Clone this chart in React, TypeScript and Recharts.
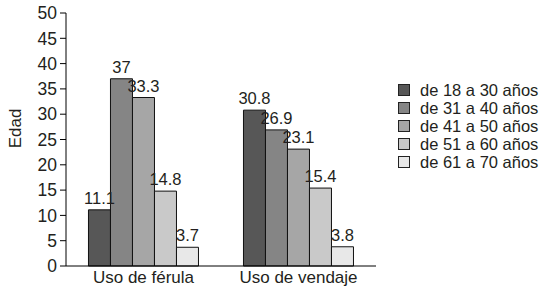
import { Bar, BarChart, LabelList, Legend, XAxis, YAxis } from "recharts";

const categories = ["Uso de férula", "Uso de vendaje"];
const groups = ["de 18 a 30 años", "de 31 a 40 años", "de 41 a 50 años", "de 51 a 60 años", "de 61 a 70 años"];
const valsFerula = [11.1, 37, 33.3, 14.8, 3.7];
const valsVendaje = [30.8, 26.9, 23.1, 15.4, 3.8];
const yTicks = [0, 5, 10, 15, 20, 25, 30, 35, 40, 45, 50];

const fills = ["#575757", "#858585", "#a6a6a6", "#c9c9c9", "#e8e8e8"];
const font = '"Liberation Sans", Arial, sans-serif';
const ink = "#231f20";

const data = categories.map((c, i) => {
  const row: Record<string, string | number> = { cat: c, pos: i + 0.5 };
  const vals = i === 0 ? valsFerula : valsVendaje;
  groups.forEach((g, j) => (row["s" + j] = vals[j]));
  return row;
});

function LegendBox({ payload }: any) {
  return (
    <div style={{ fontFamily: font, fontSize: 16.5, color: ink }}>
      {(payload || []).map((p: any) => (
        <div key={p.value} style={{ display: "flex", alignItems: "center", height: 18 }}>
          <span
            style={{
              width: 10,
              height: 10,
              background: p.color,
              border: "1px solid #222",
              marginRight: 10,
              flex: "none",
            }}
          />
          <span style={{ whiteSpace: "nowrap" }}>{p.value}</span>
        </div>
      ))}
    </div>
  );
}

function EdadLabel({ viewBox }: any) {
  // the original sits a little above the middle of the plot
  const cy = viewBox.y + viewBox.height / 2 - 11;
  return (
    <text
      x={15}
      y={cy}
      transform={`rotate(-90 15 ${cy})`}
      textAnchor="middle"
      dominantBaseline="central"
      fontFamily={font}
      fontSize={17}
      fill={ink}
    >
      Edad
    </text>
  );
}

export default function App() {
  return (
    <div style={{ position: "absolute", left: 0, top: 0, background: "#fff" }}>
      <BarChart
        width={547}
        height={296}
        data={data}
        margin={{ top: 13, right: 171, bottom: 0, left: 0 }}
        barCategoryGap="14.5%"
        barGap={0}
      >
        <XAxis
          dataKey="cat"
          xAxisId="c"
          height={30}
          tickLine={false}
          tickSize={0}
          tickMargin={5}
          axisLine={{ stroke: "#000" }}
          tick={{ fontFamily: font, fontSize: 17, fill: ink }}
          interval={0}
        />
        <XAxis
          xAxisId="b"
          type="number"
          dataKey="pos"
          domain={[0, 2]}
          ticks={[0, 1, 2]}
          tick={false}
          tickSize={5}
          tickLine={{ stroke: "#000" }}
          axisLine={false}
          height={0}
        />
        <XAxis xAxisId="t" orientation="top" dataKey="cat" tick={false} tickLine={false} axisLine={{ stroke: "#000" }} height={0} />
        <YAxis
          yAxisId="l"
          domain={[0, 50]}
          ticks={yTicks}
          interval={0}
          width={66}
          tickSize={6}
          tickMargin={3}
          axisLine={{ stroke: "#000" }}
          tickLine={{ stroke: "#000" }}
          tick={{ fontFamily: font, fontSize: 17.5, fill: ink }}
          label={<EdadLabel />}
        />
        <YAxis yAxisId="r" orientation="right" domain={[0, 50]} tick={false} tickLine={false} axisLine={{ stroke: "#000" }} width={0} />
        <Legend
          layout="vertical"
          align="center"
          verticalAlign="middle"
          content={<LegendBox />}
          wrapperStyle={{ left: 398, top: 81, width: 149 }}
        />
        {groups.map((g, j) => (
          <Bar
            key={g}
            dataKey={"s" + j}
            name={g}
            xAxisId="c"
            yAxisId="l"
            fill={fills[j]}
            stroke="#111"
            strokeWidth={1}
            isAnimationActive={false}
          >
            <LabelList
              dataKey={"s" + j}
              position="top"
              offset={6}
              style={{ fontFamily: font, fontSize: 16.5, fill: ink }}
            />
          </Bar>
        ))}
      </BarChart>
    </div>
  );
}
